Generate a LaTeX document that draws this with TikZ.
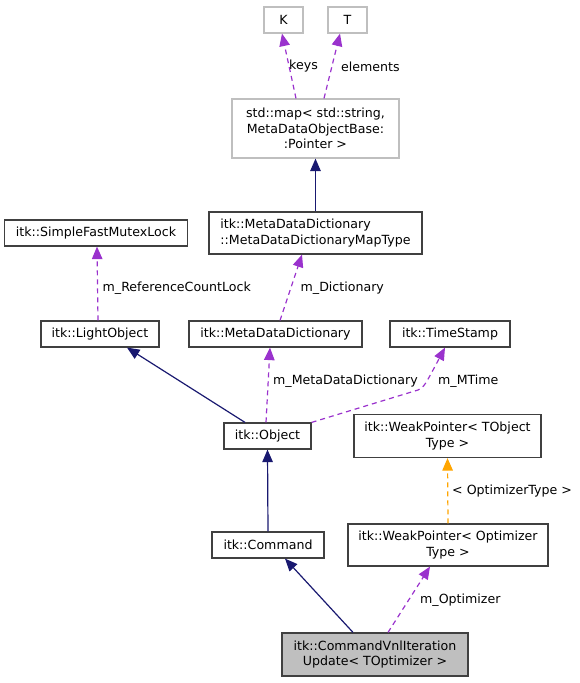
\documentclass[tikz,border=0pt]{standalone}
\usepackage{fontspec}
\setmainfont{DejaVu Sans}
\usetikzlibrary{calc,arrows.meta}
\definecolor{frame}{HTML}{404040}
\definecolor{soft}{HTML}{BFBFBF}
\definecolor{navy}{HTML}{191970}
\definecolor{orchid}{HTML}{9A32CD}
\definecolor{amber}{HTML}{FFA500}
\tikzset{
  cls/.style={draw=frame, line width=1.2pt, fill=white, inner sep=0pt, align=center, font=\fontsize{12.6}{15.5}\selectfont},
  ext/.style={cls, draw=soft},
  self/.style={cls, fill=soft},
  tip/.style={-{Triangle[length=12.5pt,width=10.5pt]}},
  inh/.style={tip, draw=navy, line width=1.2pt},
  use/.style={tip, draw=orchid, line width=1.2pt, dash pattern=on 5pt off 4pt},
  tpl/.style={tip, draw=amber, line width=1.2pt, dash pattern=on 5pt off 4pt},
  lab/.style={anchor=west, inner sep=0pt, font=\fontsize{12.6}{15.5}\selectfont},
}
\begin{document}
\begin{tikzpicture}[x=1pt,y=-1pt]
  \useasboundingbox (0,0) rectangle (579,683);
  % classes
  \node[ext, minimum width=39pt, minimum height=26pt] (K) at (283.5,20) {K};
  \node[ext, minimum width=39pt, minimum height=26pt] (T) at (347.5,20) {T};
  \node[ext, minimum width=167pt, minimum height=59pt] (map) at (315.5,128.5) {std::map< std::string,\\ MetaDataObjectBase:\\:Pointer >};
  \node[cls, minimum width=213pt, minimum height=42pt, align=left] (maptype) at (315.5,233) {itk::MetaDataDictionary\\::MetaDataDictionaryMapType};
  \node[cls, minimum width=183pt, minimum height=26pt] (lock) at (96,233) {itk::SimpleFastMutexLock};
  \node[cls, minimum width=118pt, minimum height=26pt] (light) at (100,334) {itk::LightObject};
  \node[cls, minimum width=173pt, minimum height=26pt] (dict) at (275.5,334) {itk::MetaDataDictionary};
  \node[cls, minimum width=120pt, minimum height=26pt] (stamp) at (450,334) {itk::TimeStamp};
  \node[cls, minimum width=87pt, minimum height=26pt] (obj) at (267.5,436) {itk::Object};
  \node[cls, minimum width=187pt, minimum height=43pt] (wpobj) at (447.5,436) {itk::WeakPointer< TObject\\Type >};
  \node[cls, minimum width=112pt, minimum height=26pt] (cmd) at (268,545) {itk::Command};
  \node[cls, minimum width=200pt, minimum height=42pt] (wpopt) at (448,545) {itk::WeakPointer< Optimizer\\Type >};
  \node[self, minimum width=186pt, minimum height=43pt] (vnl) at (375,654.5) {itk::CommandVnlIteration\\Update< TOptimizer >};
  \coordinate (bend) at (418,390);
  % connectors
  \draw[use] ($(map.north)+(-19.5,0)$) -- ($(K.south)+(-1.5,0)$);
  \draw[use] ($(map.north)+(8.5,0)$) -- ($(T.south)+(-7.5,0)$);
  \draw[inh] (maptype.north) -- (map.south);
  \draw[use] ($(dict.north)+(4.5,0)$) -- ($(maptype.south)+(-13.5,0)$);
  \draw[use] ($(light.north)+(-2,0)$) -- ($(lock.south)+(1,0)$);
  \draw[inh] ($(obj.north)+(-22.5,0)$) -- ($(light.south)+(27,0)$);
  \draw[use] ($(obj.north)+(-1.5,0)$) -- ($(dict.south)+(-5.5,0)$);
  \draw[use] (obj.north east) -- (bend) .. controls (424,387) .. ($(stamp.south)+(-5,0)$);
  \draw[inh] (cmd.north) -- (obj.south);
  \draw[tpl] (wpopt.north) -- (wpobj.south);
  \draw[inh] ($(vnl.north)+(-22,0)$) -- ($(cmd.south)+(17,0)$);
  \draw[use] ($(vnl.north)+(13,0)$) -- ($(wpopt.south)+(-18,0)$);
  % labels
  \node[lab] (lkeys) at (289,66.5) {keys};
  \node[lab] (lelem) at (341,66.5) {elements};
  \node[lab] (ldict) at (300.5,288) {m\_Dictionary};
  \node[lab] (llock) at (102.5,288) {m\_ReferenceCountLock};
  \node[lab] (lmdd) at (273,381) {m\_MetaDataDictionary};
  \node[lab] (ltime) at (438,381) {m\_MTime};
  \node[lab] (ltype) at (452,491) {< OptimizerType >};
  \node[lab] (lopt) at (420,600) {m\_Optimizer};
\end{tikzpicture}
\end{document}
